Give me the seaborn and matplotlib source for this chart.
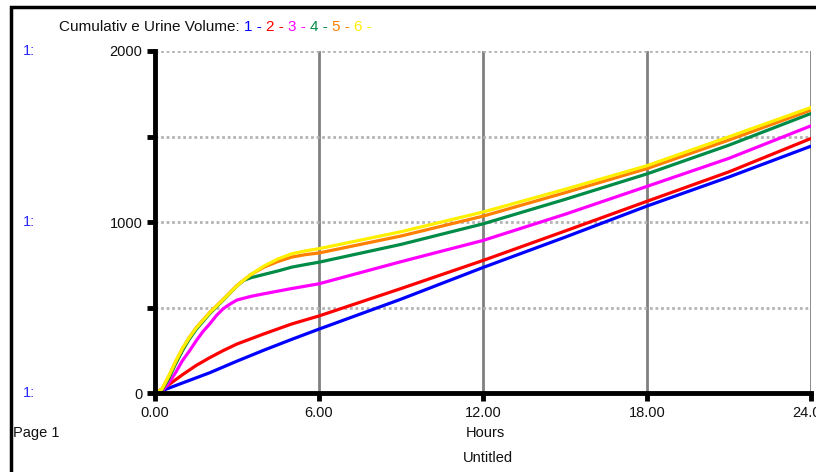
import pandas as pd
import matplotlib
matplotlib.use('Agg')
import matplotlib.pyplot as plt
import seaborn as sns
from matplotlib.patches import Rectangle

# values (cumulative urine volume vs hours)
blue_t = [0, 1, 2, 3, 4, 5, 6, 9, 12, 15, 18, 21, 24]
blue_v = [0, 60, 120, 188, 253, 315, 375, 550, 735, 912, 1094, 1264, 1444]

red_t = [0, 0.5, 1, 1.5, 2, 2.5, 3, 4, 5, 6, 9, 12, 15, 18, 21, 24]
red_v = [0, 50, 108, 162, 208, 250, 288, 348, 405, 452, 612, 776, 948, 1122, 1294, 1489]

magenta_t = [0, 0.3, 0.5, 0.75, 1, 1.25, 1.5, 1.75, 2, 2.25, 2.5, 2.75, 3, 3.5, 4, 5, 6,
             9, 12, 15, 18, 21, 24]
magenta_v = [0, 20, 60, 120, 190, 245, 305, 360, 405, 455, 495, 522, 545, 566, 582, 612, 640,
             769, 893, 1046, 1209, 1373, 1563]

late_t = [0, 0.25, 0.5, 0.75, 1, 1.25, 1.5, 2, 2.5, 3, 3.25, 3.5, 4, 4.5, 5, 5.5, 6,
          9, 12, 15, 18, 21, 24]
green_v = [0, 18, 85, 170, 248, 315, 372, 465, 545, 628, 660, 675, 695, 715, 737, 752, 766,
           870, 990, 1133, 1282, 1450, 1635]
orange_v = [0, 24, 98, 183, 260, 325, 382, 472, 550, 630, 662, 693, 738, 770, 796, 810, 820,
            919, 1035, 1172, 1313, 1480, 1655]
yellow_v = [0, 25, 100, 185, 262, 325, 380, 470, 548, 628, 662, 693, 745, 785, 815, 832, 845,
            944, 1059, 1192, 1330, 1499, 1670]

runs = ['1', '2', '3', '4', '5', '6']
colors = ['#0000FF', '#FF0000', '#FF00FF', '#008C46', '#FF8000', '#FFF000']

frames = []
for run, t, v in zip(runs,
                     [blue_t, red_t, magenta_t, late_t, late_t, late_t],
                     [blue_v, red_v, magenta_v, green_v, orange_v, yellow_v]):
    frames.append(pd.DataFrame({'Hours': t, 'Volume': v, 'Run': run}))
df = pd.concat(frames, ignore_index=True)

sns.set_style('white')
plt.rcParams['font.family'] = ['Liberation Sans', 'DejaVu Sans']

W, H = 816, 472
fig = plt.figure(figsize=(W / 100, H / 100), dpi=100)
ax = fig.add_axes([155 / W, (H - 393.3) / H, (811 - 155) / W, (393.3 - 51) / H])

sns.lineplot(data=df, x='Hours', y='Volume', hue='Run', hue_order=runs,
             palette=colors, legend=False, lw=2.3, ax=ax, sort=True)

ax.set_xlim(0, 24)
ax.set_ylim(0, 2000)
ax.set_xticks([0, 6, 12, 18, 24])
ax.set_xticklabels(['0.00', '6.00', '12.00', '18.00', '24.00'], fontsize=10.5)
ax.set_yticks([0, 500, 1000, 1500, 2000])
ax.set_yticklabels(['0', '', '1000', '', '2000'], fontsize=10.5)
ax.set_xlabel('')
ax.set_ylabel('')

ax.set_axisbelow(True)
ax.xaxis.grid(True, color='#808080', lw=2, ls='-')
ax.yaxis.grid(True, color='#b4b4b4', lw=2, ls=(0, (1, 1)))

for side in ['top', 'right']:
    ax.spines[side].set_visible(False)
for side in ['left', 'bottom']:
    ax.spines[side].set_color('black')
    ax.spines[side].set_linewidth(3.5)
ax.tick_params(direction='out', length=6, width=3.5, color='black', pad=3,
               left=True, bottom=True, labelcolor='#111111')

# outer page frame
fig.add_artist(Rectangle((11 / W, -0.05), 1.1, 1 - 7 / H + 0.05, transform=fig.transFigure,
                         fill=False, lw=2.5, ec='black'))

# title with coloured run numbers
fig.canvas.draw()
r = fig.canvas.get_renderer()
x = 59 / W
y = 1 - 27 / H
t = fig.text(x, y, 'Cumulativ e Urine Volume: ', fontsize=11, va='center', color='#111111')
x = t.get_window_extent(r).x1 / W
for run, c in zip(runs, colors):
    t = fig.text(x, y, run + ' - ', fontsize=11, va='center', color=c)
    x = t.get_window_extent(r).x1 / W

for yy in [51, 222.5, 393.3]:
    fig.text(23 / W, 1 - yy / H, '1:', fontsize=10.5, va='center', color='#2a2aff')

fig.text(13 / W, 1 - 433 / H, 'Page 1', fontsize=10.5, va='center', color='#111111')
fig.text(485 / W, 1 - 433 / H, 'Hours', fontsize=10.5, va='center', ha='center', color='#111111')
fig.text(488 / W, 1 - 458 / H, 'Untitled', fontsize=10.5, va='center', ha='center', color='#111111')

fig.savefig('out.png', dpi=100)
